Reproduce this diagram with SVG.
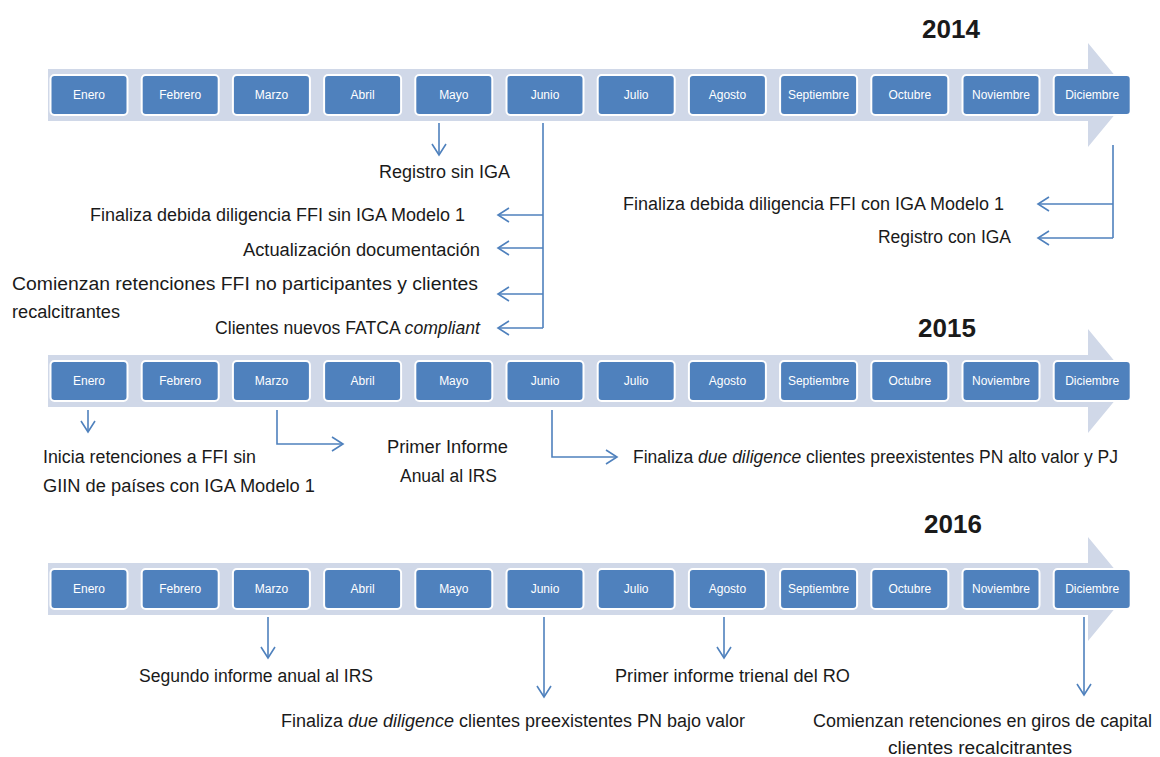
<svg xmlns="http://www.w3.org/2000/svg" width="1160" height="757" viewBox="0 0 1160 757">
<style>
.band{fill:#d0d8e8}
.box{fill:#4f81bd;stroke:#ffffff;stroke-width:2}
.mt{font-family:"Liberation Sans",Arial,sans-serif;font-size:12px;fill:#ffffff;text-anchor:middle}
.yr{font-family:"Liberation Sans",Arial,sans-serif;font-size:26px;font-weight:bold;fill:#1a1a1a;text-anchor:middle}
.t{font-family:"Liberation Sans",Arial,sans-serif;font-size:18px;fill:#1a1a1a}
.i{font-style:italic}
.c{fill:none;stroke:#4f81bd;stroke-width:1.6}
.ca{fill:none;stroke:#4f81bd;stroke-width:1.6;marker-end:url(#ah)}
</style>
<defs>
<marker id="ah" markerUnits="userSpaceOnUse" viewBox="-14 -9 16 18" markerWidth="16" markerHeight="18" refX="0" refY="0" orient="auto">
<path d="M-11,-7 L0,0 L-11,7" fill="none" stroke="#4f81bd" stroke-width="1.6"/>
</marker>
<g id="months">
<rect class="box" x="50.5" y="-20" width="77" height="40" rx="4"/>
<rect class="box" x="141.7" y="-20" width="77" height="40" rx="4"/>
<rect class="box" x="232.9" y="-20" width="77" height="40" rx="4"/>
<rect class="box" x="324.1" y="-20" width="77" height="40" rx="4"/>
<rect class="box" x="415.3" y="-20" width="77" height="40" rx="4"/>
<rect class="box" x="506.5" y="-20" width="77" height="40" rx="4"/>
<rect class="box" x="597.7" y="-20" width="77" height="40" rx="4"/>
<rect class="box" x="688.9" y="-20" width="77" height="40" rx="4"/>
<rect class="box" x="780.1" y="-20" width="77" height="40" rx="4"/>
<rect class="box" x="871.3" y="-20" width="77" height="40" rx="4"/>
<rect class="box" x="962.5" y="-20" width="77" height="40" rx="4"/>
<rect class="box" x="1053.7" y="-20" width="77" height="40" rx="4"/>
<text class="mt" x="89" y="4">Enero</text>
<text class="mt" x="180.2" y="4">Febrero</text>
<text class="mt" x="271.4" y="4">Marzo</text>
<text class="mt" x="362.6" y="4">Abril</text>
<text class="mt" x="453.8" y="4">Mayo</text>
<text class="mt" x="545" y="4">Junio</text>
<text class="mt" x="636.2" y="4">Julio</text>
<text class="mt" x="727.4" y="4">Agosto</text>
<text class="mt" x="818.6" y="4">Septiembre</text>
<text class="mt" x="909.8" y="4">Octubre</text>
<text class="mt" x="1001" y="4">Noviembre</text>
<text class="mt" x="1092.2" y="4">Diciembre</text>
</g>
<path id="arrowband" class="band" d="M48,-26 H1088 V-52 L1131,0 L1088,52 V26 H48 Z"/>
</defs>

<g id="timeline-2014">
<text class="yr" x="951" y="38">2014</text>
<use href="#arrowband" transform="translate(0,95)"/>
<use href="#months" transform="translate(0,95)"/>
</g>
<g id="timeline-2015">
<text class="yr" x="947" y="337">2015</text>
<use href="#arrowband" transform="translate(0,381)"/>
<use href="#months" transform="translate(0,381)"/>
</g>
<g id="timeline-2016">
<text class="yr" x="953" y="533">2016</text>
<use href="#arrowband" transform="translate(0,589)"/>
<use href="#months" transform="translate(0,589)"/>
</g>

<g id="connectors">
<path class="ca" d="M439,123 V155"/>
<path class="c" d="M543,123 V328"/>
<path class="ca" d="M543,215 H498"/>
<path class="ca" d="M543,248 H498"/>
<path class="ca" d="M543,294 H498"/>
<path class="ca" d="M543,328 H498"/>
<path class="c" d="M1113,145 V238"/>
<path class="ca" d="M1113,204 H1038"/>
<path class="ca" d="M1113,238 H1038"/>
<path class="ca" d="M88,410 V432"/>
<path class="ca" d="M277,410 V444 H343"/>
<path class="ca" d="M552,410 V457 H617"/>
<path class="ca" d="M268,617 V658"/>
<path class="ca" d="M544,617 V697"/>
<path class="ca" d="M724,617 V658"/>
<path class="ca" d="M1084,617 V695"/>
</g>

<g id="event-registro-sin-iga"><text class="t" x="379" y="178" textLength="131" lengthAdjust="spacingAndGlyphs">Registro sin IGA</text></g>
<g id="event-finaliza-sin-iga"><text class="t" x="90" y="221" textLength="375" lengthAdjust="spacingAndGlyphs">Finaliza debida diligencia FFI sin IGA Modelo 1</text></g>
<g id="event-actualizacion"><text class="t" x="243" y="256" textLength="237" lengthAdjust="spacingAndGlyphs">Actualización documentación</text></g>
<g id="event-comienzan-retenciones">
<text class="t" x="12" y="290" textLength="466" lengthAdjust="spacingAndGlyphs">Comienzan retenciones FFI no participantes y clientes</text>
<text class="t" x="12" y="318" textLength="108" lengthAdjust="spacingAndGlyphs">recalcitrantes</text>
</g>
<g id="event-clientes-nuevos"><text class="t" x="215" y="334" textLength="265" lengthAdjust="spacingAndGlyphs">Clientes nuevos FATCA <tspan class="i">compliant</tspan></text></g>
<g id="event-finaliza-con-iga"><text class="t" x="623" y="210" textLength="381" lengthAdjust="spacingAndGlyphs">Finaliza debida diligencia FFI con IGA Modelo 1</text></g>
<g id="event-registro-con-iga"><text class="t" x="878" y="243" textLength="133" lengthAdjust="spacingAndGlyphs">Registro con IGA</text></g>

<g id="event-inicia-retenciones">
<text class="t" x="43" y="463" textLength="213" lengthAdjust="spacingAndGlyphs">Inicia retenciones a FFI sin</text>
<text class="t" x="43" y="492" textLength="272" lengthAdjust="spacingAndGlyphs">GIIN de países con IGA Modelo 1</text>
</g>
<g id="event-primer-informe">
<text class="t" x="387" y="453" textLength="121" lengthAdjust="spacingAndGlyphs">Primer Informe</text>
<text class="t" x="400" y="482" textLength="97" lengthAdjust="spacingAndGlyphs">Anual al IRS</text>
</g>
<g id="event-due-diligence-alto"><text class="t" x="633" y="463" textLength="485" lengthAdjust="spacingAndGlyphs">Finaliza <tspan class="i">due diligence</tspan> clientes preexistentes PN alto valor y PJ</text></g>

<g id="event-segundo-informe"><text class="t" x="139" y="682" textLength="234" lengthAdjust="spacingAndGlyphs">Segundo informe anual al IRS</text></g>
<g id="event-due-diligence-bajo"><text class="t" x="281" y="727" textLength="464" lengthAdjust="spacingAndGlyphs">Finaliza <tspan class="i">due diligence</tspan> clientes preexistentes PN bajo valor</text></g>
<g id="event-informe-trienal"><text class="t" x="615" y="682" textLength="235" lengthAdjust="spacingAndGlyphs">Primer informe trienal del RO</text></g>
<g id="event-retenciones-giros">
<text class="t" x="813" y="727" textLength="339" lengthAdjust="spacingAndGlyphs">Comienzan retenciones en giros de capital</text>
<text class="t" x="888" y="754" textLength="184" lengthAdjust="spacingAndGlyphs">clientes recalcitrantes</text>
</g>
</svg>
